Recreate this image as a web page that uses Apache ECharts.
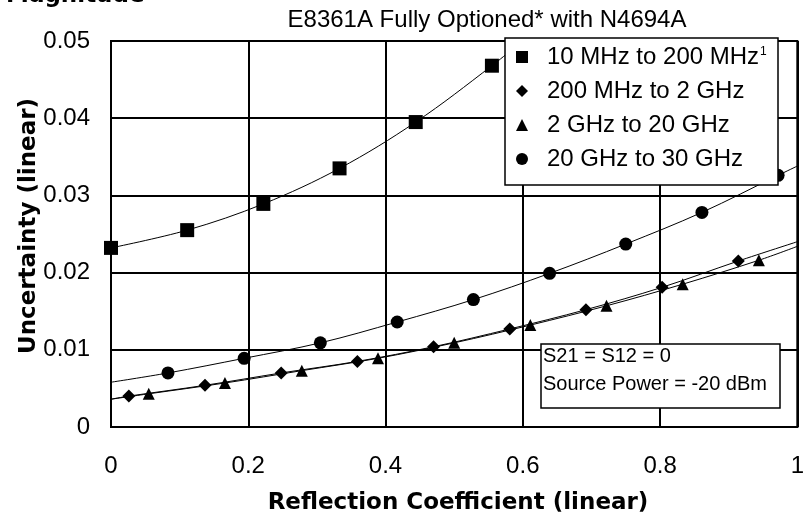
<!DOCTYPE html>
<html>
<head>
<meta charset="utf-8">
<script src="https://cdn.jsdelivr.net/npm/echarts@6/dist/echarts.min.js"></script>
<style>
html,body{margin:0;padding:0;background:#fff;}
#chart{width:807px;height:517px;}
</style>
</head>
<body>
<div id="chart"></div>
<script>
// ---- data ----
const seriesNames = ['10 MHz to 200 MHz', '200 MHz to 2 GHz', '2 GHz to 20 GHz', '20 GHz to 30 GHz'];
const xTickLabels = ['0', '0.2', '0.4', '0.6', '0.8', '1'];
const yTickLabels = ['0', '0.01', '0.02', '0.03', '0.04', '0.05'];

const sqX = [0, 0.111, 0.222, 0.333, 0.444, 0.555];
const sqY = [0.0232, 0.0255, 0.0289, 0.0335, 0.0395, 0.0468];

const diX = [0.026, 0.137, 0.248, 0.359, 0.470, 0.581, 0.692, 0.803, 0.914];
const diY = [0.0040, 0.0054, 0.0070, 0.0085, 0.0104, 0.0127, 0.0152, 0.0181, 0.0215];

const trX = [0.055, 0.166, 0.278, 0.389, 0.500, 0.611, 0.722, 0.833, 0.944];
const trY = [0.0043, 0.0057, 0.0073, 0.0089, 0.0109, 0.0132, 0.0157, 0.0185, 0.0216];

const ciX = [0.083, 0.194, 0.305, 0.417, 0.528, 0.639, 0.750, 0.861, 0.972];
const ciY = [0.0070, 0.0089, 0.0109, 0.0136, 0.0165, 0.0199, 0.0237, 0.0278, 0.0326];

// trend-line end values read at the plot edges
const sqTrendEnd = [0.61, 0.0508];
const diTrendStart = [0, 0.0036], diTrendEnd = [1, 0.0240];
const trTrendStart = [0, 0.0036], trTrendEnd = [1, 0.0234];
const ciTrendStart = [0, 0.0058], ciTrendEnd = [1, 0.0338];

// ---- build ----
const pts = (xs, ys) => xs.map((x, i) => [x, ys[i]]);
const REG = 'Liberation Sans, Arial, sans-serif';
const BOLD = 'DejaVu Sans, sans-serif';

function trend(name, data) {
  return {
    name: name, type: 'line', data: data, smooth: 0.35, symbol: 'none',
    lineStyle: { color: '#000', width: 1 }, z: 3, silent: true
  };
}
function marks(name, data, symbol, size) {
  return {
    name: name, type: 'scatter', data: data, symbol: symbol, symbolSize: size,
    itemStyle: { color: '#000', opacity: 1 }, z: 4
  };
}

const chart = echarts.init(document.getElementById('chart'), null, { renderer: 'canvas' });
chart.setOption({
  animation: false,
  backgroundColor: '#fff',
  grid: { left: 111, right: 4, top: 41, bottom: 90, show: true, borderColor: '#000', borderWidth: 2 },
  xAxis: {
    type: 'value', min: 0, max: 1, interval: 0.2,
    axisLine: { show: true, lineStyle: { color: '#000', width: 2 } },
    axisTick: { show: false },
    splitLine: { show: true, lineStyle: { color: '#000', width: 2 } },
    axisLabel: { margin: 27, color: '#000', fontFamily: REG, fontSize: 24,
      formatter: (v, i) => xTickLabels[i] }
  },
  yAxis: {
    type: 'value', min: 0, max: 0.05, interval: 0.01,
    axisLine: { show: true, lineStyle: { color: '#000', width: 2 } },
    axisTick: { show: false },
    splitLine: { show: true, lineStyle: { color: '#000', width: 2 } },
    axisLabel: { margin: 21, color: '#000', fontFamily: REG, fontSize: 24,
      formatter: (v, i) => yTickLabels[i] }
  },
  legend: {
    orient: 'vertical', left: 505, top: 38,
    backgroundColor: 'transparent', borderWidth: 0,
    padding: [6, 0, 13, 11],
    itemWidth: 12, itemHeight: 12, itemGap: 8,
    data: [
      { name: seriesNames[0], icon: 'rect' },
      { name: seriesNames[1], icon: 'diamond' },
      { name: seriesNames[2], icon: 'triangle' },
      { name: seriesNames[3], icon: 'circle' }
    ],
    formatter: function (n) { return n === seriesNames[0] ? n + '{sup|1}' : n; },
    textStyle: {
      color: '#000', fontFamily: REG, fontSize: 24, lineHeight: 26, padding: [0, 0, 0, 14],
      rich: { sup: { fontFamily: REG, fontSize: 12, lineHeight: 12, verticalAlign: 'top', padding: [2, 0, 0, 1] } }
    },
    z: 10
  },
  graphic: [
    { type: 'rect', z: 5, shape: { x: 505, y: 38, width: 273, height: 147 },
      style: { fill: '#fff', stroke: '#000', lineWidth: 1.5 } },
    { type: 'text', z: 100, x: 487, y: 20, style: { text: 'E8361A Fully Optioned* with N4694A', fill: '#000',
      font: '24px ' + REG, textAlign: 'center', textVerticalAlign: 'middle' } },
    { type: 'text', z: 100, x: 6, y: -4, style: { text: 'Magnitude', fill: '#000',
      font: 'bold 23px ' + BOLD, textAlign: 'left', textVerticalAlign: 'middle' } },
    { type: 'text', z: 100, x: 458, y: 503, style: { text: 'Reflection Coefficient (linear)', fill: '#000',
      font: 'bold 23px ' + BOLD, textAlign: 'center', textVerticalAlign: 'middle' } },
    { type: 'text', z: 100, x: 29, y: 226, rotation: Math.PI / 2, style: { text: 'Uncertainty (linear)', fill: '#000',
      font: 'bold 23px ' + BOLD, textAlign: 'center', textVerticalAlign: 'middle' } },
    { type: 'rect', z: 100, shape: { x: 541, y: 344, width: 239, height: 64 },
      style: { fill: '#fff', stroke: '#000', lineWidth: 1.5 } },
    { type: 'text', z: 101, x: 543, y: 356, style: { text: 'S21 = S12 = 0', fill: '#000',
      font: '20px ' + REG, textAlign: 'left', textVerticalAlign: 'middle' } },
    { type: 'text', z: 101, x: 543, y: 384, style: { text: 'Source Power = -20 dBm', fill: '#000',
      font: '20px ' + REG, textAlign: 'left', textVerticalAlign: 'middle' } }
  ],
  series: [
    trend('t0', pts(sqX, sqY).concat([sqTrendEnd])),
    trend('t1', [diTrendStart].concat(pts(diX, diY), [diTrendEnd])),
    trend('t2', [trTrendStart].concat(pts(trX, trY), [trTrendEnd])),
    trend('t3', [ciTrendStart].concat(pts(ciX, ciY), [ciTrendEnd])),
    marks(seriesNames[0], pts(sqX, sqY), 'rect', 14),
    marks(seriesNames[1], pts(diX, diY), 'diamond', 13),
    marks(seriesNames[2], pts(trX, trY), 'triangle', 12),
    marks(seriesNames[3], pts(ciX, ciY), 'circle', 13)
  ]
});
</script>
</body>
</html>
